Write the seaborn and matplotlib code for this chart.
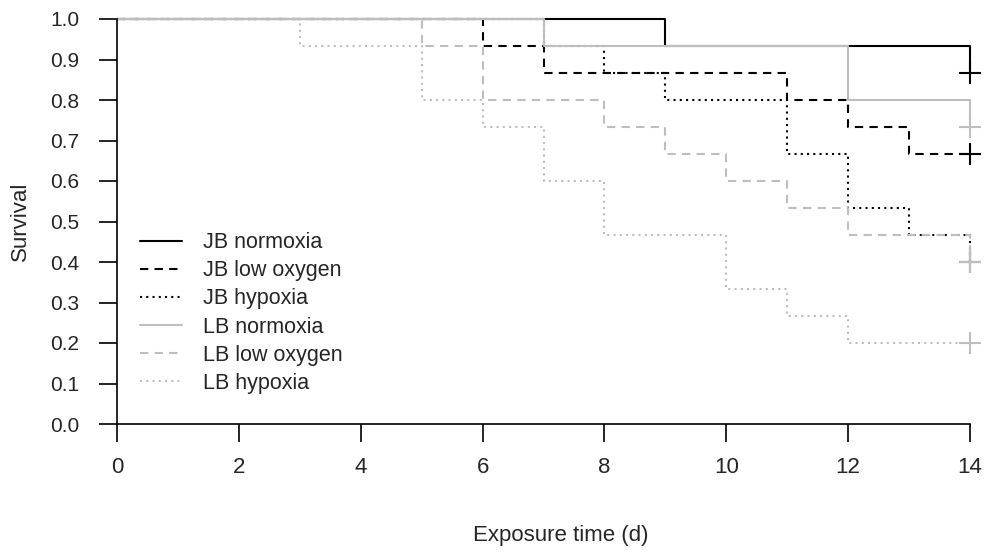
import matplotlib
matplotlib.use("Agg")
import matplotlib.pyplot as plt
import seaborn as sns
import pandas as pd

# ---- data (Kaplan-Meier step curves) ----
groups = ["JB normoxia", "JB low oxygen", "JB hypoxia",
          "LB normoxia", "LB low oxygen", "LB hypoxia"]

jb_norm_t = [0, 9, 14]
jb_norm_s = [1.0, 0.933, 0.867]
jb_low_t = [0, 6, 7, 11, 12, 13, 14]
jb_low_s = [1.0, 0.933, 0.867, 0.8, 0.733, 0.667, 0.667]
jb_hyp_t = [0, 7, 8, 9, 11, 12, 13, 14]
jb_hyp_s = [1.0, 0.933, 0.867, 0.8, 0.667, 0.533, 0.467, 0.4]
lb_norm_t = [0, 7, 12, 14]
lb_norm_s = [1.0, 0.933, 0.8, 0.733]
lb_low_t = [0, 5, 6, 8, 9, 10, 11, 12, 14]
lb_low_s = [1.0, 0.933, 0.8, 0.733, 0.667, 0.6, 0.533, 0.467, 0.4]
lb_hyp_t = [0, 3, 5, 6, 7, 8, 10, 11, 12, 14]
lb_hyp_s = [1.0, 0.933, 0.8, 0.733, 0.6, 0.467, 0.333, 0.267, 0.2, 0.2]

censor_t = [14, 14, 14, 14, 14, 14]
censor_s = [0.867, 0.667, 0.4, 0.733, 0.4, 0.2]

x_ticks = [0, 2, 4, 6, 8, 10, 12, 14]
y_ticks = [0.0, 0.1, 0.2, 0.3, 0.4, 0.5, 0.6, 0.7, 0.8, 0.9, 1.0]

series_t = [jb_norm_t, jb_low_t, jb_hyp_t, lb_norm_t, lb_low_t, lb_hyp_t]
series_s = [jb_norm_s, jb_low_s, jb_hyp_s, lb_norm_s, lb_low_s, lb_hyp_s]

rows = []
for g, ts, ss in zip(groups, series_t, series_s):
    for t, s in zip(ts, ss):
        rows.append({"group": g, "time": t, "surv": s})
df = pd.DataFrame(rows)
cens = pd.DataFrame({"group": groups, "time": censor_t, "surv": censor_s})

# ---- style ----
sns.set_theme(style="white")
plt.rcParams["font.family"] = ["Liberation Sans", "DejaVu Sans"]

palette = {g: ("black" if g.startswith("JB") else "#BEBEBE") for g in groups}
dash_solid = ""
dash_dash = (4, 3)
dash_dot = (1, 2)
dashes = {"JB normoxia": dash_solid, "JB low oxygen": dash_dash, "JB hypoxia": dash_dot,
          "LB normoxia": dash_solid, "LB low oxygen": dash_dash, "LB hypoxia": dash_dot}

fig = plt.figure(figsize=(9.86, 5.52), dpi=100)
ax = fig.add_axes([117 / 986, 1 - 424 / 552, (970 - 117) / 986, (424 - 19) / 552])

sns.lineplot(data=df, x="time", y="surv", hue="group", style="group",
             hue_order=groups, style_order=groups, palette=palette, dashes=dashes,
             drawstyle="steps-post", estimator=None, sort=False, linewidth=1.5,
             ax=ax, legend=True)

for g in groups:
    sub = cens[cens["group"] == g]
    sns.scatterplot(data=sub, x="time", y="surv", color=palette[g], marker="+",
                    s=260, linewidth=1.5, ax=ax, legend=False, zorder=3)

ax.set_xlim(0, 14)
ax.set_ylim(0, 1)
ax.set_xticks(x_ticks)
ax.set_xticklabels([str(v) for v in x_ticks])
ax.set_yticks(y_ticks)
ax.set_yticklabels([f"{v:.1f}" for v in y_ticks])
ax.tick_params(axis="both", which="both", direction="out", length=13, width=1.2,
               color="black", left=True, bottom=True)
ax.tick_params(axis="x", labelsize=16, pad=11)
ax.tick_params(axis="y", labelsize=15, pad=14)
for sp in ["top", "right"]:
    ax.spines[sp].set_visible(False)
for sp in ["left", "bottom"]:
    ax.spines[sp].set_color("black")
    ax.spines[sp].set_linewidth(1.2)
for ln in ax.lines:
    ln.set_clip_on(False)
for c in ax.collections:
    c.set_clip_on(False)

ax.set_xlabel("Exposure time (d)", fontsize=16)
ax.set_ylabel("Survival", fontsize=16)
ax.xaxis.set_label_coords(0.52, -0.25)
ax.yaxis.set_label_coords(-0.101, 0.5)

handles, labels = ax.get_legend_handles_labels()
leg = ax.legend(handles, labels, loc="center left", bbox_to_anchor=(0.014, 0.274),
                frameon=False, fontsize=15.5, handlelength=1.95, handletextpad=1.0,
                labelspacing=0.33, borderpad=0)

fig.savefig("out.png", dpi=100, facecolor="white")
